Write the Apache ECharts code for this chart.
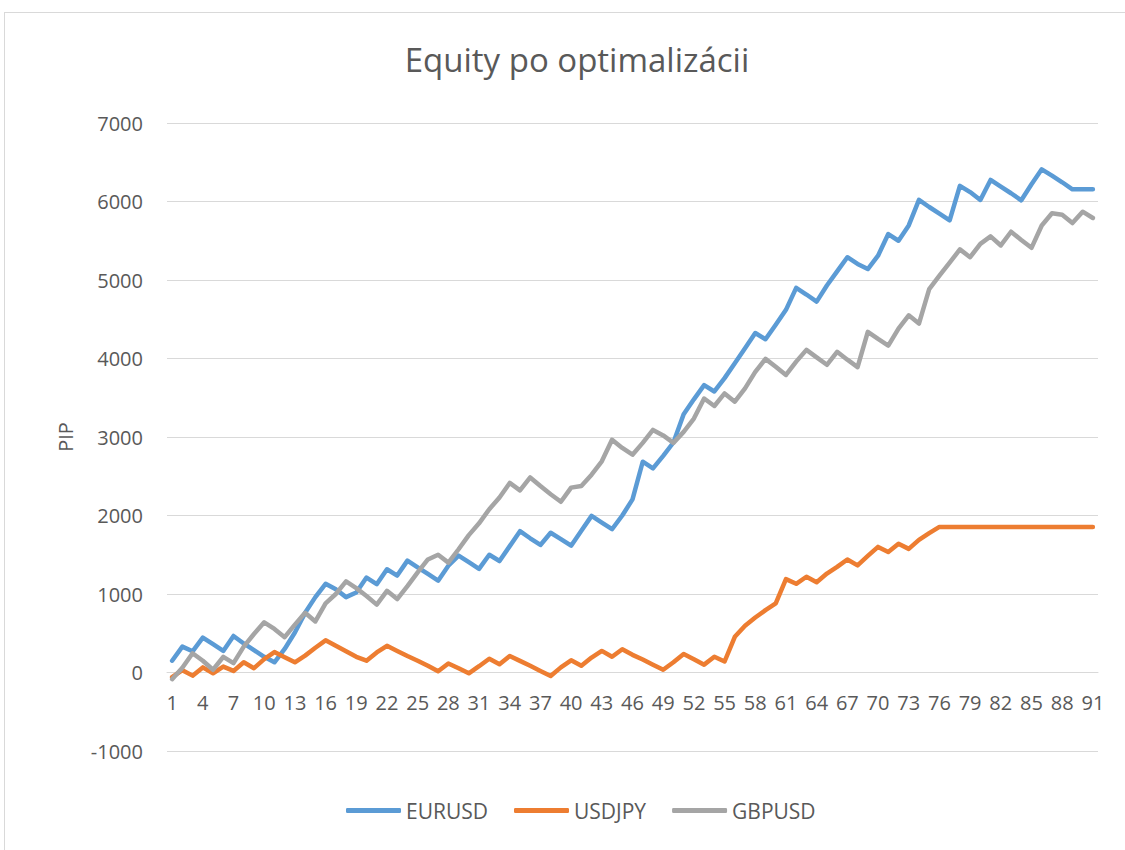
<!DOCTYPE html>
<html>
<head>
<meta charset="utf-8">
<title>Equity po optimalizácii</title>
<script src="https://cdn.jsdelivr.net/npm/echarts@6/dist/echarts.min.js"></script>
<style>
  html, body { margin: 0; padding: 0; background: #fff; }
  .frame {
    position: absolute;
    left: 4px;
    top: 12px;
    width: 1140px;
    height: 850px;
    border: 1px solid #d9d9d9;
  }
  #chart {
    position: absolute;
    left: 0;
    top: 0;
    width: 1125px;
    height: 850px;
  }
</style>
</head>
<body>
<div class="frame"></div>
<div id="chart"></div>
<script>
// poradie obchodov 1..91
const categories = []
for (let i = 1; i <= 91; i++) categories.push(String(i))

// hodnoty odcitane z grafu (PIP)
const eurusd = [
  150, 330, 270, 445, 360, 275, 465, 370, 285, 200,
  130, 300, 510, 760, 960, 1130, 1060, 960, 1020, 1210,
  1125, 1315, 1235, 1425, 1340, 1255, 1170, 1360, 1490, 1405,
  1320, 1500, 1420, 1610, 1800, 1710, 1625, 1780, 1700, 1615,
  1805, 1995, 1910, 1825, 2000, 2205, 2685, 2600, 2760, 2930,
  3290, 3480, 3660, 3580, 3750, 3940, 4130, 4325, 4245, 4430,
  4620, 4900, 4815, 4725, 4930, 5110, 5290, 5205, 5140, 5310,
  5585, 5500, 5695, 6020, 5930, 5845, 5760, 6200, 6120, 6020,
  6275, 6190, 6105, 6015, 6220, 6410, 6330, 6245, 6155, 6155,
  6155
]

const usdjpy = [
  -60, 30, -40, 65, -10, 75, 20, 130, 55, 170,
  260, 195, 130, 215, 315, 410, 340, 270, 200, 150,
  255, 340, 275, 210, 150, 85, 15, 115, 55, -10,
  80, 175, 105, 210, 148, 85, 20, -45, 65, 155,
  85, 190, 275, 200, 297, 225, 165, 100, 35, 130,
  235, 170, 100, 200, 140, 455, 595, 700, 795, 880,
  1190, 1130, 1220, 1150, 1260, 1345, 1440, 1365, 1485, 1600,
  1535, 1640, 1575, 1690, 1775, 1855, 1855, 1855, 1855, 1855,
  1855, 1855, 1855, 1855, 1855, 1855, 1855, 1855, 1855, 1855,
  1855
]

const gbpusd = [
  -85, 60, 245, 150, 35, 200, 120, 330, 490, 640,
  555, 450, 610, 760, 650, 880, 1000, 1160, 1075, 975,
  865, 1040, 935, 1100, 1275, 1440, 1500, 1400, 1570, 1750,
  1900, 2080, 2230, 2415, 2320, 2485, 2375, 2270, 2175, 2355,
  2375, 2520, 2690, 2965, 2860, 2775, 2925, 3090, 3020, 2925,
  3065, 3235, 3490, 3395, 3555, 3450, 3620, 3830, 3995, 3895,
  3790, 3960, 4110, 4015, 3920, 4085, 3985, 3890, 4340, 4250,
  4165, 4380, 4550, 4445, 4885, 5055, 5220, 5390, 5290, 5460,
  5555, 5440, 5615, 5510, 5410, 5695, 5850, 5830, 5725, 5870,
  5790
]

const seriesNames = ['EURUSD', 'USDJPY', 'GBPUSD']
const seriesColors = ['#5b9bd5', '#ed7d31', '#a5a5a5']

const textColor = '#595959'
const font = "'Open Sans', 'Noto Sans', sans-serif"

const chart = echarts.init(document.getElementById('chart'), null, { renderer: 'svg' })

function makeLine(name, data, color) {
  return {
    name: name,
    type: 'line',
    data: data,
    color: color,
    showSymbol: false,
    symbol: 'none',
    lineStyle: { width: 4.5, color: color, cap: 'round', join: 'round' }
  }
}

const option = {
  animation: false,
  textStyle: { fontFamily: font },
  title: {
    text: 'Equity po optimalizácii',
    left: 572,
    top: 38,
    textAlign: 'center',
    textStyle: { fontSize: 33, fontWeight: 'normal', color: textColor, fontFamily: font }
  },
  legend: {
    bottom: 24,
    left: 341,
    itemWidth: 55,
    itemHeight: 5,
    itemGap: 26,
    icon: 'roundRect',
    data: seriesNames,
    textStyle: { fontSize: 21, color: textColor, fontFamily: font }
  },
  grid: {
    left: 167,
    right: 27,
    top: 123,
    bottom: 99,
    containLabel: false
  },
  xAxis: {
    type: 'category',
    data: categories,
    boundaryGap: true,
    // os kategorii sedi na nule, nie na spodku grafu
    offset: -79,
    axisLine: { onZero: false, lineStyle: { color: '#d9d9d9', width: 1 } },
    axisTick: { show: false },
    axisLabel: { interval: 2, margin: 20, fontSize: 20, color: textColor, fontFamily: font },
    splitLine: { show: false }
  },
  yAxis: {
    type: 'value',
    min: -1000,
    max: 7000,
    interval: 1000,
    name: 'PIP',
    nameLocation: 'middle',
    nameGap: 92,
    nameRotate: 90,
    nameTextStyle: { fontSize: 20, color: textColor, fontFamily: font },
    axisLine: { show: false },
    axisTick: { show: false },
    axisLabel: {
      margin: 24,
      fontSize: 20,
      color: textColor,
      fontFamily: font,
      formatter: function (v) { return String(v) }
    },
    splitLine: { lineStyle: { color: '#d9d9d9', width: 1 } }
  },
  series: [
    makeLine(seriesNames[0], eurusd, seriesColors[0]),
    makeLine(seriesNames[1], usdjpy, seriesColors[1]),
    makeLine(seriesNames[2], gbpusd, seriesColors[2])
  ]
}

chart.setOption(option)
</script>
</body>
</html>
